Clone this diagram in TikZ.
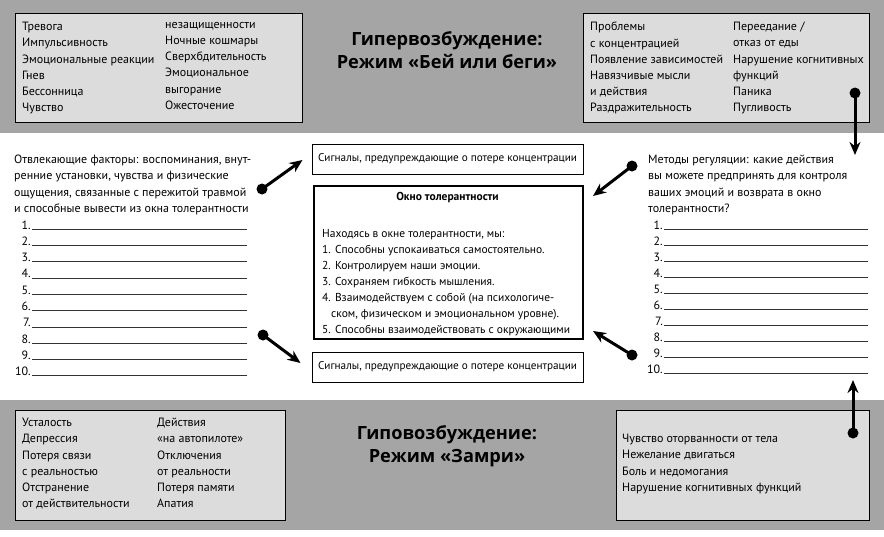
\documentclass[tikz,border=0pt]{standalone}
\usepackage{fontspec}
\setmainfont{PT Sans}
\newfontfamily\headfont{Open Sans}
\usetikzlibrary{arrows.meta,positioning,calc}
\definecolor{bandgray}{RGB}{165,165,165}
\definecolor{panelgray}{RGB}{220,220,220}

\begin{document}
\begin{tikzpicture}[
        x=1pt, y=-1pt,
        panel/.style={draw, fill=panelgray, line width=1.2pt, anchor=north west, inner sep=0},
        col/.style={anchor=north west, inner sep=0, align=left, font=\fontsize{12}{16.2}\selectfont},
        head/.style={align=center, inner sep=0, font=\headfont\bfseries\fontsize{18.2}{23}\selectfont},
        sigbox/.style={draw, fill=white, line width=1pt, minimum width=271pt, minimum height=30pt, inner sep=0, font=\fontsize{11.2}{14}\selectfont},
        num/.style={inner sep=0, anchor=base east, font=\fontsize{12}{14}\selectfont},
        blank/.style={line width=0.5pt, black!80},
        dot/.style={circle, fill=black, inner sep=0, minimum size=11pt},
        link/.style={-{Stealth[length=13pt, width=11pt]}, line width=3pt}
    ]
    \useasboundingbox (0,0) rectangle (884,536);

    % Bands
    \fill[bandgray] (0,0) rectangle (884,133);
    \fill[bandgray] (0,400) rectangle (884,530);

    % Hyperarousal
    \node[panel, minimum width=287pt, minimum height=109pt] (hyperL) at (15,13) {};
    \node[col] (hyperLa) at (22,22) {Тревога\\Импульсивность\\Эмоциональные реакции\\Гнев\\Бессонница\\Чувство};
    \node[col] (hyperLb) at (165,22) {незащищенности\\Ночные кошмары\\Сверхбдительность\\Эмоциональное\\выгорание\\Ожесточение};
    \node[head] (hypertitle) at (447,50) {Гипервозбуждение:\\Режим «Бей или беги»};
    \node[panel, minimum width=286pt, minimum height=109pt] (hyperR) at (583,13) {};
    \node[col] (hyperRa) at (590,22) {Проблемы\\с концентрацией\\Появление зависимостей\\Навязчивые мысли\\и действия\\Раздражительность};
    \node[col] (hyperRb) at (733,22) {Переедание /\\отказ от еды\\Нарушение когнитивных\\функций\\Паника\\Пугливость};

    % Hypoarousal
    \node[panel, minimum width=270pt, minimum height=110pt] (hypoL) at (15,410) {};
    \node[col] (hypoLa) at (22,418) {Усталость\\Депрессия\\Потеря связи\\с реальностью\\Отстранение\\от действительности};
    \node[col] (hypoLb) at (157,418) {Действия\\«на автопилоте»\\Отключения\\от реальности\\Потеря памяти\\Апатия};
    \node[head] (hypotitle) at (447,446) {Гиповозбуждение:\\Режим «Замри»};
    \node[panel, minimum width=253pt, minimum height=110pt] (hypoR) at (616,410) {};
    \node[col] (hypoRa) at (622,434) {Чувство оторванности от тела\\Нежелание двигаться\\Боль и недомогания\\Нарушение когнитивных функций};

    % Window of tolerance
    \node[sigbox] (sigtop) at (447.5,159) {Сигналы, предупреждающие о потере концентрации};
    \node[draw, line width=2pt, anchor=north west, minimum width=269pt, minimum height=153pt] (window) at (313,185) {};
    \node[inner sep=0, font=\bfseries\fontsize{11.5}{14}\selectfont] (wintitle) at (447.5,198) {Окно толерантности};
    \node[col, font=\fontsize{11.5}{16.1}\selectfont] (winlist) at (322,229) {Находясь в окне толерантности, мы:\\1. Способны успокаиваться самостоятельно.\\2. Контролируем наши эмоции.\\3. Сохраняем гибкость мышления.\\4. Взаимодействуем с собой (на психологиче-\\\hspace*{9pt}ском, физическом и эмоциональном уровне).\\5. Способны взаимодействовать с окружающими};
    \node[sigbox] (sigbot) at (447.5,367) {Сигналы, предупреждающие о потере концентрации};

    % Left questions
    \node[col] (distract) at (14,155) {Отвлекающие факторы: воспоминания, внут-\\ренние установки, чувства и физические\\ощущения, связанные с пережитой травмой\\и способные вывести из окна толерантности};
    \foreach \i in {1,...,10}{
        \node[num] (lnum\i) at (31,{229+16.3*(\i-1)}) {\i.};
        \draw[blank] ([xshift=1pt]lnum\i.base east) -- (247,{229+16.3*(\i-1)});
    }

    % Right questions
    \node[col] (regul) at (648,155) {Методы регуляции: какие действия\\вы можете предпринять для контроля\\ваших эмоций и возврата в окно\\толерантности?};
    \foreach \i in {1,...,10}{
        \node[num] (rnum\i) at (663,{229+16*(\i-1)}) {\i.};
        \draw[blank] ([xshift=1pt]rnum\i.base east) -- (868,{229+16*(\i-1)});
    }

    % Arrows
    \node[dot] (dotLT) at (262,189) {};
    \node[dot] (dotLB) at (263,335) {};
    \node[dot] (dotRT) at (632,166) {};
    \node[dot] (dotRB) at (632,355) {};
    \node[dot] (dotUp) at (855,93) {};
    \node[dot] (dotDn) at (853,433) {};
    \draw[link] (dotLT.center) -- ([xshift=-9pt, yshift=-1pt]sigtop.west);
    \draw[link] (dotLB.center) -- ([xshift=-11pt, yshift=4pt]sigbot.west);
    \draw[link] (dotRT.center) -- ([xshift=9pt, yshift=-11pt]window.north east);
    \draw[link] (dotRB.center) -- ([xshift=9pt, yshift=9pt]window.south east);
    \draw[link] (dotUp.center) -- (dotUp |- regul.north);
    \draw[link] (dotDn.center) -- (853,380);

\end{tikzpicture}
\end{document}
